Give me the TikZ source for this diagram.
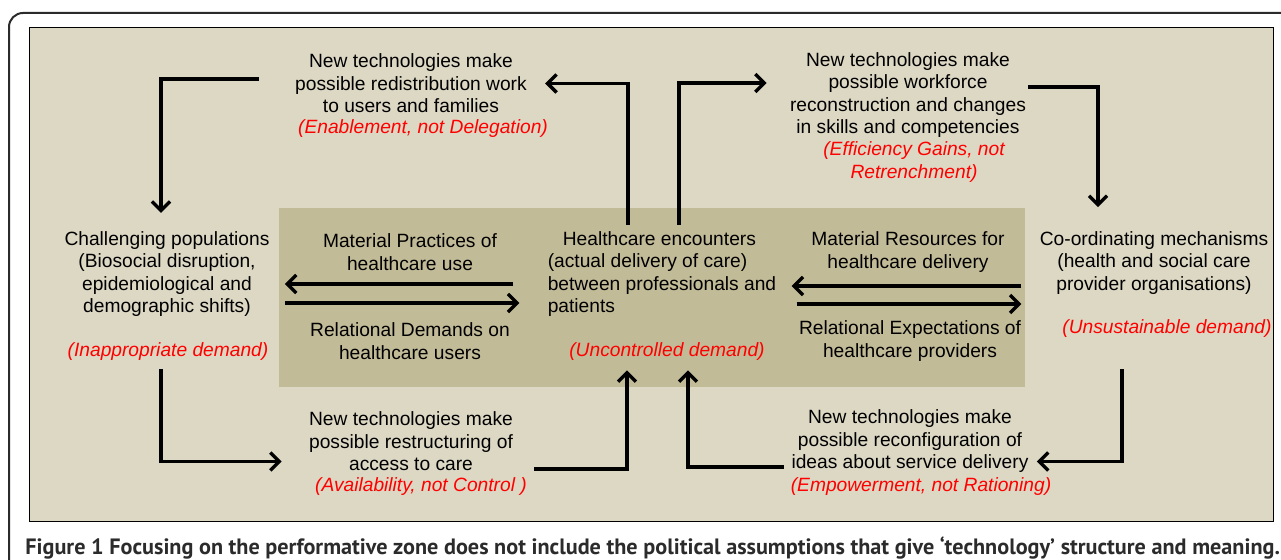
\documentclass[tikz,border=0pt]{standalone}
\usepackage{fontspec}
\setmainfont{Liberation Sans}
\newfontfamily\capfont{PT Sans}
\usepackage{tikz}
\usetikzlibrary{arrows.meta}
\definecolor{panel}{HTML}{DDD8C4}
\definecolor{zone}{HTML}{C2BB98}
\definecolor{capgray}{HTML}{2B2B2B}

\begin{document}
\begin{tikzpicture}[x=0.5pt, y=-0.5pt, >={Straight Barb[length=4.5pt,width=9pt]},
  txt/.style={align=center, inner sep=0pt, font=\fontsize{9.6}{11.25}\selectfont},
  dem/.style={txt, text=red, font=\fontsize{9.6}{11.25}\selectfont\itshape},
  flow/.style={->, line width=1.7pt}]
\useasboundingbox (0,0) rectangle (1281,560);
% frame and panels
\draw[capgray, line width=1pt, rounded corners=7pt] (9,560) |- (1281,13);
\draw[fill=panel, line width=0.5pt] (29,28) rectangle (1273,522);
\fill[zone] (279,208) rectangle (1025,387);

% middle row
\node[txt, align=left] (care) at (662,274) {\hspace*{7.5pt}Healthcare encounters\\(actual delivery of care)\\between professionals and\\patients};
\node[dem] (uncontr) at (667,352) {(Uncontrolled demand)};
\node[txt] (pop) at (167,274) {Challenging populations\\(Biosocial disruption,\\epidemiological and\\demographic shifts)};
\node[dem] (inappr) at (168,352) {(Inappropriate demand)};
\node[txt] (coord) at (1154,263) {Co-ordinating mechanisms\\(health and social care\\provider organisations)};
\node[dem] (unsust) at (1167,329) {(Unsustainable demand)};

\node[txt] (matpr) at (410,252) {Material Practices of\\healthcare use};
\node[txt] (reldem) at (410,341) {Relational Demands on\\healthcare users};
\node[txt] (matres) at (908,252) {Material Resources for\\healthcare delivery};
\node[txt] (relexp) at (910,341) {Relational Expectations of\\healthcare providers};

% technologies
\node[txt] (redis) at (411,83.5) {New technologies make\\possible redistribution work\\to users and families};
\node[dem] (enab) at (423,129) {(Enablement, not Delegation)};
\node[txt] (workf) at (908,95) {New technologies make\\possible workforce\\reconstruction and changes\\in skills and competencies};
\node[dem] (effic) at (914,162) {(Efficiency Gains, not\\Retrenchment)};
\node[txt] (restr) at (411,441.5) {New technologies make\\possible restructuring of\\access to care};
\node[dem] (avail) at (421,487) {(Availability, not Control )};
\node[txt] (reconf) at (910,441.5) {New technologies make\\possible reconfiguration of\\ideas about service delivery};
\node[dem] (empow) at (921,487) {(Empowerment, not Rationing)};

% cycle
\draw[flow] ([xshift=-18pt,yshift=2.25pt]redis.west) -| ([xshift=-3pt,yshift=9pt]pop.north);
\draw[flow] ([xshift=-17pt,yshift=3pt]care.north) |- ([xshift=9pt]redis.east);
\draw[flow] ([xshift=8.5pt,yshift=3pt]care.north) |- ([xshift=-11.5pt,yshift=6pt]workf.west);
\draw[flow] ([xshift=1pt,yshift=4pt]workf.east) -| ([xshift=-28pt,yshift=12pt]coord.north);
\draw[flow] ([xshift=-3.5pt,yshift=-4pt]inappr.south) |- ([xshift=-13.5pt,yshift=-10pt]restr.west);
\draw[flow] ([xshift=10.5pt,yshift=-13.75pt]restr.east) -| ([xshift=-20pt,yshift=-4.5pt]uncontr.south);
\draw[flow] ([xshift=-22.5pt,yshift=-15.5pt]unsust.south) |- ([xshift=4pt,yshift=-10pt]reconf.east);
\draw[flow] ([xshift=-3.5pt,yshift=-12.75pt]reconf.west) -| ([xshift=10.5pt,yshift=-4.5pt]uncontr.south);

% practices and expectations
\draw[flow] ([xshift=-17pt,yshift=-5pt]care.west) -- ([xshift=7.5pt,yshift=-5pt]pop.east);
\draw[flow] ([xshift=7.5pt,yshift=-14.5pt]pop.east) -- ([xshift=-14pt,yshift=-14.5pt]care.west);
\draw[flow] ([xshift=-9pt,yshift=-11.5pt]coord.west) -- ([xshift=7.5pt,yshift=-6pt]care.east);
\draw[flow] ([xshift=10pt,yshift=-15pt]care.east) -- ([xshift=-9pt,yshift=-20.5pt]coord.west);

\node[anchor=west, inner sep=0pt, text=capgray, font=\capfont\bfseries\fontsize{11.1}{13}\selectfont] (caption) at (25,548) {Figure 1 Focusing on the performative zone does not include the political assumptions that give ‘technology’ structure and meaning.};
\end{tikzpicture}
\end{document}
